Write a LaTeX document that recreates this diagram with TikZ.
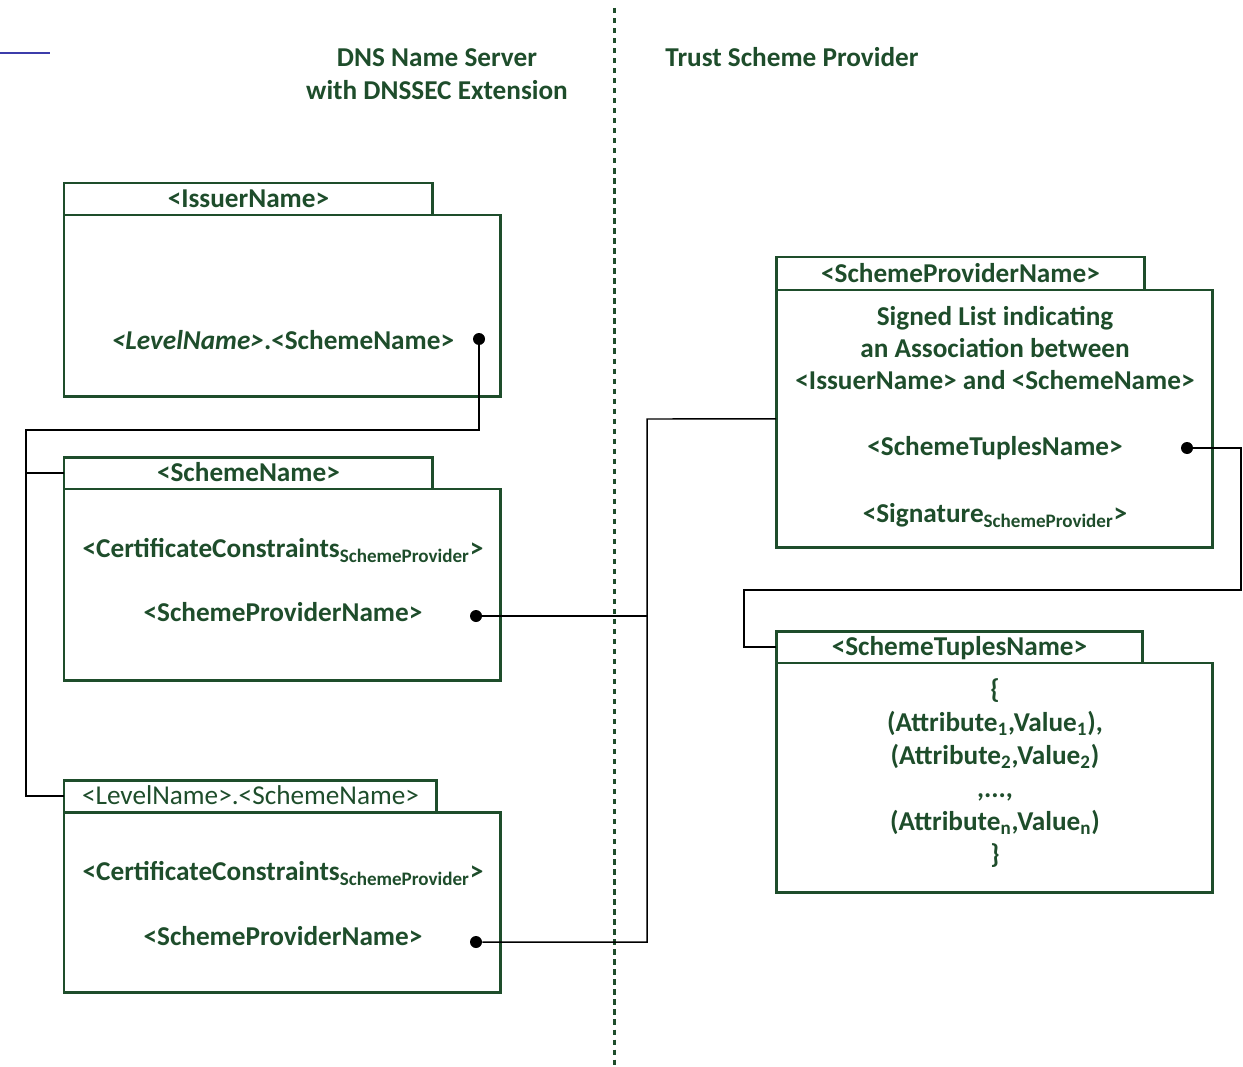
\documentclass[tikz,border=0pt]{standalone}
\usepackage{fontspec}
\setmainfont{Carlito}
\usepackage{xcolor}
\usetikzlibrary{positioning}
\definecolor{dnsgreen}{RGB}{30,77,43}
\definecolor{navyline}{RGB}{60,60,170}
\tikzset{
    every node/.style={font=\fontsize{15.5}{19}\selectfont\bfseries, text=dnsgreen}, % bold green text everywhere
    rec/.style={draw=dnsgreen, line width=1.7pt, rectangle, inner sep=0pt, outer sep=0pt, minimum width=8.74cm, anchor=north west}, % record body
    tabbox/.style={rec, minimum width=7.38cm, minimum height=0.64cm, anchor=south west, text height=10pt, text depth=0pt}, % title tab on top of a record
    txt/.style={inner sep=0pt, text height=10pt, text depth=0pt}, % one line of text
    dot/.style={circle, fill=black, inner sep=0pt, minimum size=0.24cm}, % start of a link
    conn/.style={draw=black, line width=0.85pt}, % links between records
}

\begin{document}
\begin{tikzpicture}[x=0.02cm, y=-0.02cm]
    \useasboundingbox (0,0) rectangle (1243,1067);

    % Kopfzeilen
    \draw[navyline, line width=1.2pt] (0,53) -- (50,53);
    \node[txt] (dns1) at (437,58) {DNS Name Server};
    \node[txt] (dns2) at (437,91) {with DNSSEC Extension};
    \node[txt] (tsp) at (792,58) {Trust Scheme Provider};
    \draw[dnsgreen, line width=1.7pt, dash pattern=on 3pt off 2.7pt] (614,8) -- (614,1067);

    % DNS Seite
    \node[rec, minimum height=3.64cm] (issuer) at (64,215) {};
    \node[tabbox] (issuertab) at (issuer.north west) {<IssuerName>};
    \node[txt] (issuertxt) at (283,341) {\textit{<LevelName>}.<SchemeName>};
    \node[dot] (dot1) at (479,339) {};

    \node[rec, minimum height=3.84cm] (scheme) at (64,489) {};
    \node[tabbox] (schemetab) at (scheme.north west) {<SchemeName>};
    \node[txt] (schemecc) at (283,549) {<CertificateConstraints\textsubscript{SchemeProvider}>};
    \node[txt] (schemesp) at (283,613) {<SchemeProviderName>};
    \node[dot] (dot2) at (476,616) {};

    \node[rec, minimum height=3.62cm] (level) at (64,812) {};
    \node[tabbox, minimum width=7.46cm, font=\fontsize{15.5}{19}\selectfont\mdseries] (leveltab) at (level.north west) {<LevelName>.<SchemeName>};
    \node[txt] (levelcc) at (283,872) {<CertificateConstraints\textsubscript{SchemeProvider}>};
    \node[txt] (levelsp) at (283,937) {<SchemeProviderName>};
    \node[dot] (dot3) at (476,942) {};

    % Trust Scheme Provider Seite
    \node[rec, minimum height=5.16cm] (provider) at (776,290) {};
    \node[tabbox, minimum height=0.66cm] (providertab) at (provider.north west) {<SchemeProviderName>};
    \node[txt] (prov1) at (995,317) {Signed List indicating};
    \node[txt] (prov2) at (995,349) {an Association between};
    \node[txt] (prov3) at (995,381) {<IssuerName> and <SchemeName>};
    \node[txt] (prov4) at (995,447) {<SchemeTuplesName>};
    \node[txt] (prov5) at (995,514) {<Signature\textsubscript{SchemeProvider}>};
    \node[dot] (dot4) at (1187,448) {};

    \node[rec, minimum height=4.6cm] (tuples) at (776,663) {};
    \node[tabbox, minimum width=7.34cm] (tuplestab) at (tuples.north west) {<SchemeTuplesName>};
    \node[txt] (tup1) at (995,690) {\{};
    \node[txt] (tup2) at (995,723) {(Attribute\textsubscript{1},Value\textsubscript{1}),};
    \node[txt] (tup3) at (995,756) {(Attribute\textsubscript{2},Value\textsubscript{2})};
    \node[txt] (tup4) at (995,789) {,...,};
    \node[txt] (tup5) at (995,822) {(Attribute\textsubscript{n},Value\textsubscript{n})};
    \node[txt] (tup6) at (995,855) {\}};

    % Verbindungen
    \coordinate (j1) at (26,430);
    \coordinate (j2) at (647,419);
    \coordinate (j3) at (1241,590);
    \coordinate (j4) at (744,590);
    \draw[conn] (dot1) |- (j1) |- (leveltab.west);
    \draw[conn] (j1 |- schemetab.west) -- (schemetab.west);
    \draw[conn] (dot2) -- (dot2 -| j2);
    \draw[conn] (dot3) -| (j2) -- (provider.west);
    \draw[conn] (dot4) -| (j3) -- (j4) |- (tuplestab.west);
\end{tikzpicture}
\end{document}
